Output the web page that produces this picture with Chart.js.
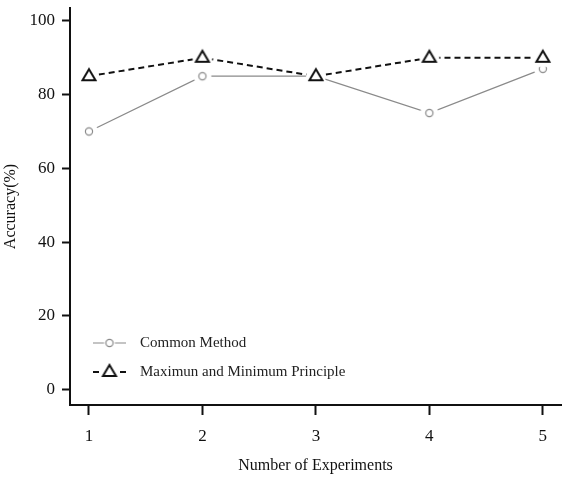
<!DOCTYPE html>
<html>
<head>
<meta charset="utf-8">
<script src="https://cdn.jsdelivr.net/npm/chart.js@4/dist/chart.umd.min.js"></script>
<style>
    html, body { margin: 0; background: #fff; }
    #wrap { width: 573px; height: 480px; }
</style>
</head>
<body>
<div id="wrap"><canvas id="chart"></canvas></div>
<script>
var experiments = [1, 2, 3, 4, 5];
var commonMethod = [70, 85, 85, 75, 87];
var maxMinPrinciple = [85, 90, 85, 90, 90];
var yTicks = [0, 20, 40, 60, 80, 100];
var seriesNames = ["Common Method", "Maximun and Minimum Principle"];

var GREY = "#8a8a8a";
var FONT = "'Liberation Serif', 'Times New Roman', serif";

// marker shape, optionally with a white halo so the line stops short of it
function makeMarker(kind, color, lw, halo) {
    var c = document.createElement("canvas");
    c.width = 24; c.height = 24;
    var g = c.getContext("2d");
    if (halo) {
        g.fillStyle = "#fff";
        g.beginPath();
        g.arc(12, 12, halo, 0, Math.PI * 2);
        g.fill();
    }
    g.fillStyle = "#fff";
    g.strokeStyle = color;
    g.lineWidth = lw;
    g.beginPath();
    if (kind == "circle") {
        g.arc(12, 12, 3.6, 0, Math.PI * 2);
    } else {
        g.moveTo(12, 5);
        g.lineTo(18.5, 16);
        g.lineTo(5.5, 16);
        g.closePath();
    }
    g.fill();
    g.stroke();
    return c;
}

var circleMark = makeMarker("circle", GREY, 1.2, 9);
var triMark = makeMarker("triangle", "#111", 2, 10);
var circleKey = makeMarker("circle", GREY, 1.2, 5.5);
var triKey = makeMarker("triangle", "#111", 2, 0);

function pts(vals) {
    return experiments.map(function(x, i) { return {x: x, y: vals[i]}; });
}

var legendPlugin = {
    id: "insideLegend",
    afterDraw: function(chart) {
        var ctx = chart.ctx;
        var a = chart.chartArea;
        var rows = [
            {y: a.bottom - 62, color: GREY, width: 1.2, dash: [], mark: circleKey},
            {y: a.bottom - 33, color: "#111", width: 2, dash: [6, 21], mark: triKey}
        ];
        ctx.save();
        rows.forEach(function(r, i) {
            var x0 = a.left + 23, x1 = a.left + 56;
            ctx.strokeStyle = r.color;
            ctx.lineWidth = r.width;
            ctx.setLineDash(r.dash);
            ctx.beginPath();
            ctx.moveTo(x0, r.y);
            ctx.lineTo(x1, r.y);
            ctx.stroke();
            ctx.setLineDash([]);
            var m = r.mark;
            ctx.drawImage(m, (x0 + x1) / 2 - m.width / 2, r.y - m.height / 2);
            ctx.fillStyle = "#222";
            ctx.font = "15px " + FONT;
            ctx.textBaseline = "middle";
            ctx.fillText(seriesNames[i], a.left + 70, r.y);
        });
        ctx.restore();
    }
};

var ctx = document.getElementById("chart").getContext("2d");
var myChart = new Chart(ctx, {
    type: "line",
    data: {
        datasets: [{
            label: seriesNames[0],
            data: pts(commonMethod),
            borderColor: GREY,
            borderWidth: 1.3,
            pointStyle: circleMark,
            pointRadius: 5,
            order: 1
        }, {
            label: seriesNames[1],
            data: pts(maxMinPrinciple),
            borderColor: "#111",
            borderWidth: 2,
            borderDash: [6, 4],
            pointStyle: triMark,
            pointRadius: 6,
            order: 0
        }]
    },
    options: {
        responsive: true,
        maintainAspectRatio: false,
        animation: false,
        layout: { padding: { top: 2, right: 12, left: 0, bottom: 0 } },
        plugins: {
            legend: { display: false },
            tooltip: { enabled: false }
        },
        scales: {
            x: {
                type: "linear",
                min: 0.833,
                max: 5.16,
                afterBuildTicks: function(s) {
                    s.ticks = experiments.map(function(v) { return {value: v}; });
                },
                afterFit: function(s) { s.height = 75; s.paddingLeft = 0; s.paddingRight = 0; },
                grid: { drawOnChartArea: false, drawTicks: true, tickLength: 10, tickWidth: 2, tickColor: "#111" },
                border: { display: true, color: "#111", width: 2 },
                ticks: { color: "#111", padding: 11, font: { family: FONT, size: 17 } },
                title: {
                    display: true, text: "Number of Experiments", color: "#111",
                    font: { family: FONT, size: 16 }, padding: { top: 0, bottom: 5 }
                }
            },
            y: {
                min: -4.2,
                max: 103.5,
                afterBuildTicks: function(s) {
                    s.ticks = yTicks.map(function(v) { return {value: v}; });
                },
                afterFit: function(s) { s.width = 70; s.paddingTop = 0; s.paddingBottom = 0; },
                grid: { drawOnChartArea: false, drawTicks: true, tickLength: 8, tickWidth: 2, tickColor: "#111" },
                border: { display: true, color: "#111", width: 2 },
                ticks: { color: "#111", padding: 7, font: { family: FONT, size: 17 } },
                title: {
                    display: true, text: "Accuracy(%)", color: "#111",
                    font: { family: FONT, size: 16 }, padding: { top: 1, bottom: 0 }
                }
            }
        }
    },
    plugins: [legendPlugin]
});
</script>
</body>
</html>
